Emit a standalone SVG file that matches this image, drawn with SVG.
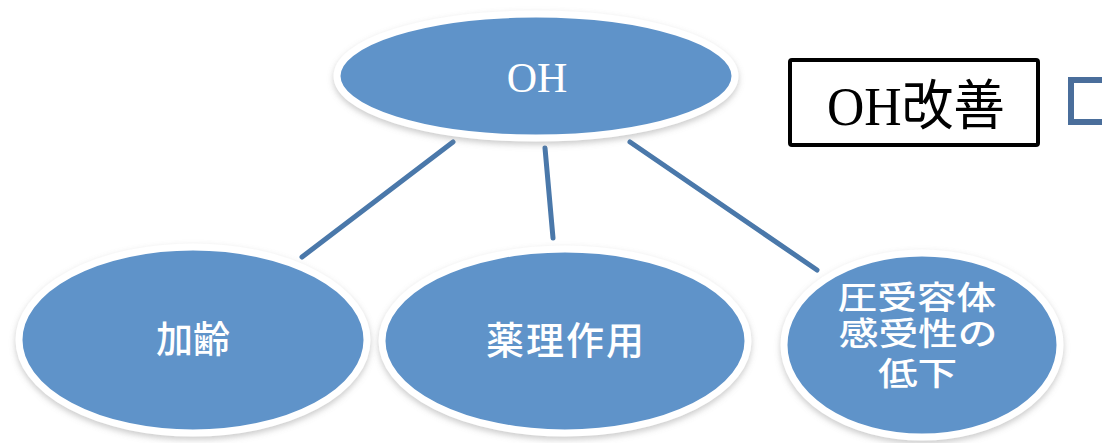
<svg xmlns="http://www.w3.org/2000/svg" width="1102" height="443" viewBox="0 0 1102 443">
<defs>
<filter id="sh" x="-10%" y="-10%" width="120%" height="130%">
<feDropShadow dx="0" dy="3" stdDeviation="3" flood-color="#8a8a8a" flood-opacity="0.45"/>
</filter>
<style>
.node{fill:#5f93c9;stroke:#ffffff;stroke-width:7;filter:url(#sh)}
.lbl{fill:#ffffff;font-family:"Noto Sans CJK JP","Noto Sans",sans-serif;font-weight:500;text-anchor:middle}
.conn{stroke:#4a78aa;stroke-width:5;stroke-linecap:round;fill:none}
</style>
</defs>
<rect width="1102" height="443" fill="#ffffff"/>
<g id="connectors">
<line class="conn" x1="453" y1="142" x2="302" y2="257"/>
<line class="conn" x1="545" y1="148" x2="553" y2="238"/>
<line class="conn" x1="630" y1="142" x2="817" y2="270"/>
</g>
<g id="node-oh">
<ellipse class="node" cx="536" cy="76" rx="199" ry="62"/>
<text x="537" y="92" font-family="'Liberation Serif',serif" font-size="42" fill="#ffffff" text-anchor="middle">OH</text>
</g>
<g id="node-yakuri">
<ellipse class="node" cx="565" cy="341" rx="183" ry="92"/>
<text class="lbl" x="566" y="354" font-size="38" letter-spacing="2">薬理作用</text>
</g>
<g id="node-kareii">
<ellipse class="node" cx="193" cy="340" rx="174" ry="93"/>
<text class="lbl" x="193" y="353" font-size="37">加齢</text>
</g>
<g id="node-atsuju">
<ellipse class="node" cx="922" cy="345" rx="138" ry="92"/>
<text class="lbl" font-size="32" transform="scale(1.24,1)">
<tspan x="743" y="309">圧受容体</tspan>
<tspan x="744" y="345">感受性の</tspan>
<tspan x="740" y="385">低下</tspan>
</text>
</g>
<g id="node-oh-kaizen">
<rect x="790" y="60" width="248" height="85" rx="2" fill="#ffffff" stroke="#000000" stroke-width="4"/>
<text x="827" y="125" font-family="'Liberation Serif','Noto Sans CJK JP',serif" font-size="54" fill="#000000" textLength="178" lengthAdjust="spacingAndGlyphs">OH改善</text>
</g>
<g id="square">
<rect x="1071" y="80" width="60" height="42" fill="none" stroke="#4a6e9b" stroke-width="6"/>
</g>
</svg>
